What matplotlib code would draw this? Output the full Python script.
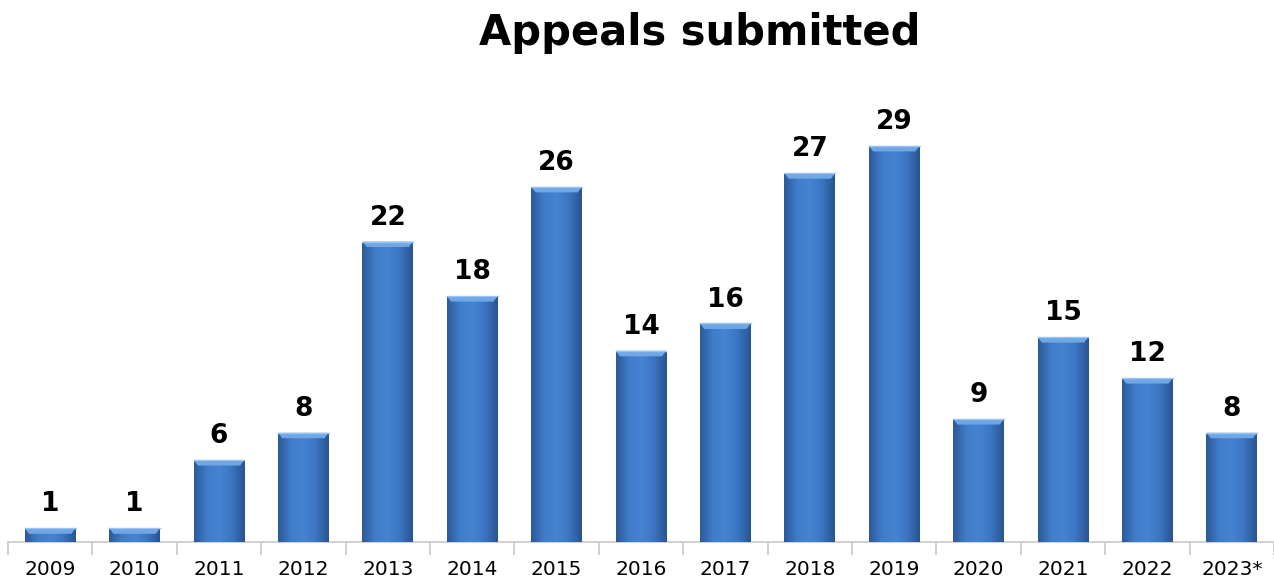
import numpy as np
import matplotlib
matplotlib.use('Agg')
import matplotlib.pyplot as plt
from matplotlib.colors import LinearSegmentedColormap

years = ['2009', '2010', '2011', '2012', '2013', '2014', '2015', '2016',
         '2017', '2018', '2019', '2020', '2021', '2022', '2023*']
appeals = [1, 1, 6, 8, 22, 18, 26, 14, 16, 27, 29, 9, 15, 12, 8]

plt.rcParams['font.family'] = ['DejaVu Sans']

fig = plt.figure(figsize=(12.74, 5.82), dpi=100)
ax = fig.add_axes([8/1274, 40/582, 1266/1274, 478/582])

x = np.arange(len(years))
bars = ax.bar(x, appeals, width=0.6, color='#3b74c0', zorder=2)

# horizontal shading across each bar (darker edges, lighter middle)
shade = LinearSegmentedColormap.from_list('shade', ['#2d5a98', '#3f7cc9', '#4584d2', '#3b75c2', '#2a5592'])
grad = np.linspace(0, 1, 64).reshape(1, -1)
for b in bars:
    x0, w, h = b.get_x(), b.get_width(), b.get_height()
    im = ax.imshow(grad, cmap=shade, aspect='auto', extent=[x0, x0 + w, 0, h], zorder=3)
    im.set_clip_path(b)
    # light bevel on top
    bev = min(0.4, h * 0.5)
    ax.fill([x0, x0 + w, x0 + w - 0.05, x0 + 0.05], [h, h, h - bev, h - bev],
            color='#6fa6e6', zorder=4, lw=0)
    ax.plot([x0, x0 + w], [h, h], color='#9cc4f2', lw=1, zorder=5)
    ax.text(x0 + w / 2, h + 0.8, str(int(h)), ha='center', va='bottom',
            fontsize=19, fontweight='bold', color='black')

ax.set_xlim(-0.5, len(years) - 0.5)
ax.set_ylim(0, 35)
ax.set_xticks(x)
ax.set_xticklabels(years, fontsize=14.5)
ax.set_xticks(np.arange(-0.5, len(years)), minor=True)
ax.tick_params(axis='x', which='major', length=0, pad=13)
ax.tick_params(axis='x', which='minor', length=9, color='#c8c8c8', width=1.2)
ax.set_yticks([])
for s in ['top', 'right', 'left']:
    ax.spines[s].set_visible(False)
ax.spines['bottom'].set_color('#c8c8c8')
ax.spines['bottom'].set_linewidth(1.2)

fig.text(0.549, 0.943, 'Appeals submitted', ha='center', va='center',
         fontsize=30, fontweight='bold')

fig.savefig('out.png', dpi=100)
